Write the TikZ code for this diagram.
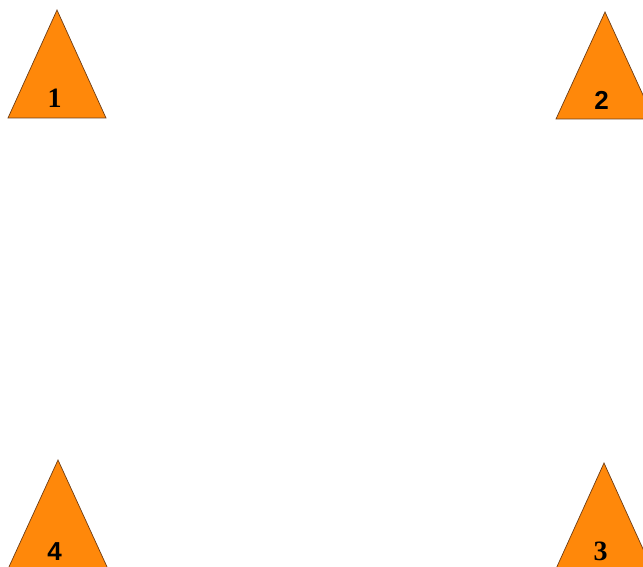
\documentclass[tikz,border=0pt]{standalone}
\usepackage{fontspec}
\newfontfamily\serifb{Liberation Serif}
\newfontfamily\sansb{Liberation Sans}
\definecolor{tri}{RGB}{255,136,10}
\definecolor{triedge}{RGB}{110,60,20}
\tikzset{
  trishape/.style={fill=tri, draw=triedge, line width=0.7pt, line join=miter},
  serlabel/.style={font=\serifb\bfseries\fontsize{28}{28}\selectfont, inner sep=0pt},
  sanlabel/.style={font=\sansb\bfseries\fontsize{26}{26}\selectfont, inner sep=0pt}
}
\begin{document}
\begin{tikzpicture}[x=1pt,y=-1pt]
\useasboundingbox (0,0) rectangle (643,567);
\clip (0,0) rectangle (643,567);
% triangle 1
\filldraw[trishape] (57,10) -- (106,118) -- (8,118) -- cycle;
\node[serlabel] (l1) at (54.5,98.5) {1};
% triangle 2
\filldraw[trishape] (605,12) -- (654,119) -- (556,119) -- cycle;
\node[sanlabel] (l2) at (601.5,100) {2};
% triangle 3
\filldraw[trishape] (604,463) -- (653,571) -- (555,571) -- cycle;
\node[serlabel] (l3) at (600.5,551.5) {3};
% triangle 4
\filldraw[trishape] (58,460) -- (108,569) -- (8,569) -- cycle;
\node[sanlabel] (l4) at (54.5,551.5) {4};
\end{tikzpicture}
\end{document}
